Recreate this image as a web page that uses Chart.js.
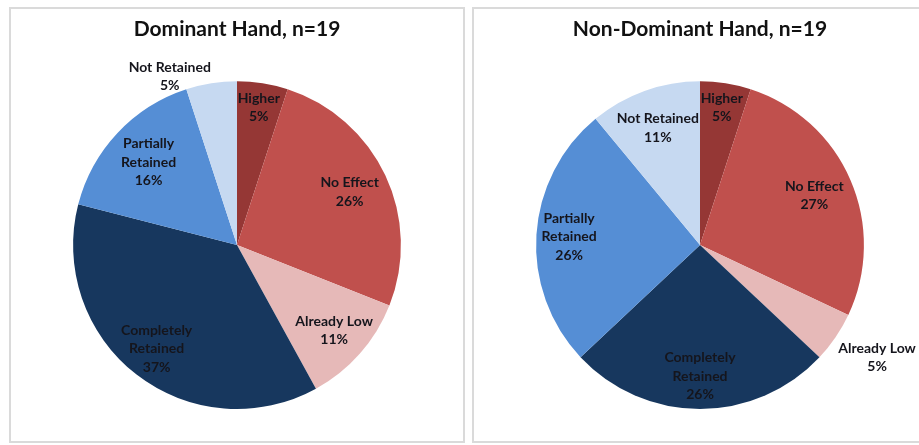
<!DOCTYPE html>
<html>
<head>
<meta charset="utf-8">
<script src="https://cdn.jsdelivr.net/npm/chart.js@4.4.0/dist/chart.umd.min.js"></script>
<style>
  html, body { margin: 0; padding: 0; background: #fff; }
  body { width: 919px; height: 445px; position: relative; overflow: hidden; }
  .panel {
    position: absolute;
    top: 7px;
    width: 456px;
    height: 436px;
    box-sizing: border-box;
    border: 2px solid #dadada;
    background: #fff;
  }
  #panelLeft { left: 9px; }
  #panelRight { left: 472px; }
  .panel canvas { display: block; }
</style>
</head>
<body>
<div class="panel" id="panelLeft"><canvas id="dominantChart" width="452" height="432"></canvas></div>
<div class="panel" id="panelRight"><canvas id="nonDominantChart" width="452" height="432"></canvas></div>

<script>
const categories = ['Higher', 'No Effect', 'Already Low', 'Completely Retained', 'Partially Retained', 'Not Retained'];
const dominantPct = [5, 26, 11, 37, 16, 5];
const nonDominantPct = [5, 27, 5, 26, 26, 11];
const titles = ['Dominant Hand, n=19', 'Non-Dominant Hand, n=19'];

const sliceColors = ['#953735', '#c0504d', '#e6b9b8', '#17375e', '#558ed5', '#c6d9f1'];

const FONT = 'Lato, "Open Sans", sans-serif';

// draws "Label\nNN%" on each slice, inside or just outside the rim
const sliceLabels = {
  id: 'sliceLabels',
  afterDatasetsDraw(chart, args, opts) {
    const ctx = chart.ctx;
    const meta = chart.getDatasetMeta(0);
    const values = chart.data.datasets[0].data;
    ctx.save();
    ctx.font = 'bold ' + opts.size + 'px ' + FONT;
    ctx.fillStyle = opts.color;
    ctx.textBaseline = 'middle';
    ctx.textAlign = 'center';

    meta.data.forEach((arc, i) => {
      const p = arc.getProps(['x', 'y', 'startAngle', 'endAngle', 'outerRadius'], true);
      const mid = (p.startAngle + p.endAngle) / 2;
      const lines = wrap(ctx, chart.data.labels[i], opts.maxWidth);
      lines.push(values[i] + '%');
      const w = Math.max(...lines.map(l => ctx.measureText(l).width));
      const h = lines.length * opts.lineHeight;

      const outside = opts.outside.includes(i);
      const frac = outside ? 1.02 : (opts.radius[i] || 0.78);
      const ax = p.x + Math.cos(mid) * p.outerRadius * frac;
      const ay = p.y + Math.sin(mid) * p.outerRadius * frac;

      let cx = ax, top = ay - h / 2;
      if (outside) {
        // block sits beside the rim, its near corner on the anchor
        cx = Math.cos(mid) >= 0 ? ax + w / 2 : ax - w / 2;
        top = Math.sin(mid) >= 0 ? ay : ay - h * 0.6;
      }
      lines.forEach((line, k) => {
        ctx.fillText(line, cx, top + opts.lineHeight * (k + 0.5));
      });
    });
    ctx.restore();
  }
};

function wrap(ctx, text, maxWidth) {
  if (ctx.measureText(text).width <= maxWidth) return [text];
  return text.split(' ');
}

function createPie(canvasId, title, values, placement) {
  const ctx = document.getElementById(canvasId);
  if (!ctx) return;

  return new Chart(ctx, {
    type: 'pie',
    data: {
      labels: categories,
      datasets: [{
        data: values,
        backgroundColor: sliceColors,
        borderWidth: 0
      }]
    },
    options: {
      responsive: false,
      animation: false,
      events: [],
      layout: {
        padding: { top: 0, bottom: 32, left: 0, right: 0 }
      },
      plugins: {
        legend: { display: false },
        tooltip: { enabled: false },
        title: {
          display: true,
          text: title,
          color: '#111',
          font: { family: FONT, size: 21, weight: 'bold', lineHeight: 1.2 },
          padding: { top: 8, bottom: 39 }
        },
        sliceLabels: Object.assign({
          size: 14,
          lineHeight: 18.5,
          color: '#15151c',
          maxWidth: 100
        }, placement)
      }
    },
    plugins: [sliceLabels]
  });
}

createPie('dominantChart', titles[0], dominantPct, {
  radius: [0.85, 0.76, 0.79, 0.80, 0.74, 0.78],
  outside: [5]
});

createPie('nonDominantChart', titles[1], nonDominantPct, {
  radius: [0.85, 0.76, 0.78, 0.80, 0.80, 0.76],
  outside: [2]
});
</script>
</body>
</html>
